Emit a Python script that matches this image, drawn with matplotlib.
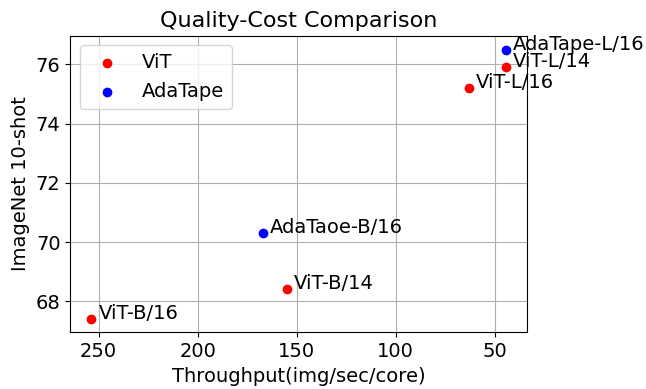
import matplotlib
matplotlib.use('Agg')
import matplotlib.pyplot as plt

plt.rcParams['font.size'] = 14

# throughput (img/sec/core) vs ImageNet 10-shot
vit_names = ['ViT-B/16', 'ViT-B/14', 'ViT-L/16', 'ViT-L/14']
vit_thru = [253.6, 155.0, 63.2, 44.3]
vit_acc = [67.4, 68.4, 75.2, 75.9]

ada_names = ['AdaTaoe-B/16', 'AdaTape-L/16']
ada_thru = [167.0, 44.3]
ada_acc = [70.3, 76.5]

fig = plt.figure(figsize=(6.46, 3.89), dpi=100)
ax = fig.add_axes([0.1088, 0.1458, 0.7075, 0.7624])

ax.scatter(vit_thru, vit_acc, color='red', s=36, label='ViT', zorder=3)
ax.scatter(ada_thru, ada_acc, color='blue', s=36, label='AdaTape', zorder=3)

for n, x, y in zip(vit_names, vit_thru, vit_acc):
    ax.annotate(n, (x, y), xytext=(5, 0), textcoords='offset points')
for n, x, y in zip(ada_names, ada_thru, ada_acc):
    ax.annotate(n, (x, y), xytext=(5, 0), textcoords='offset points')

ax.set_xlim(264.3, 33.5)
ax.set_ylim(66.95, 76.97)
ax.set_xticks([250, 200, 150, 100, 50])
ax.set_yticks([68, 70, 72, 74, 76])
ax.grid(True, zorder=0)
ax.set_axisbelow(True)

ax.set_xlabel('Throughput(img/sec/core)')
ax.set_ylabel('ImageNet 10-shot')
ax.set_title('Quality-Cost Comparison', fontsize=16)
ax.legend(loc='upper left', scatterpoints=1)

fig.savefig('out.png', dpi=100)
